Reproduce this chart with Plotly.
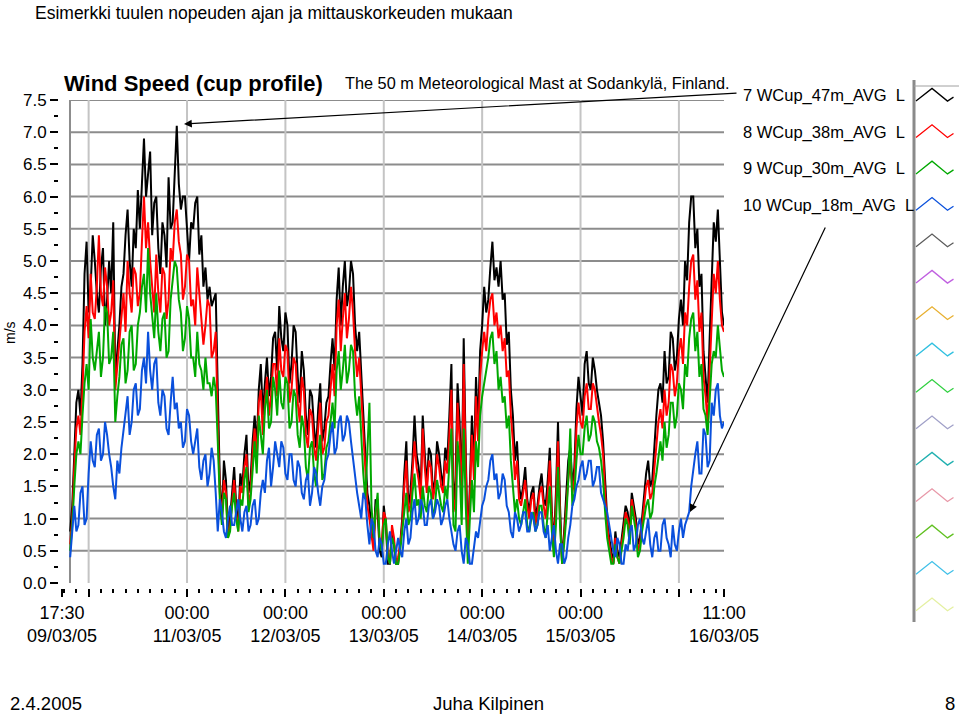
import plotly.graph_objects as go
import pandas as pd

W, H = 959, 716

# ---------------- data (half-hourly readings, 19:30 09/03/05 .. 11:00 16/03/05) ----------------
times = pd.date_range("2005-03-09 19:30", periods=320, freq="30min")

wcup_47m = [
    0.8, 1.2, 2.0, 2.8, 3.0, 2.6, 3.4, 4.8, 5.3, 4.2, 4.6, 5.4, 5.0, 4.5, 4.2, 4.9, 5.2, 4.0, 4.4, 5.0,
    4.5, 5.6, 3.2, 3.6, 4.0, 4.6, 4.8, 5.4, 5.8, 5.0, 4.6, 5.5, 5.2, 6.1, 5.5, 6.2, 6.9, 6.0, 6.3, 6.7,
    5.4, 5.9, 6.0, 5.2, 4.8, 5.6, 5.4, 4.9, 6.3, 5.5, 5.6, 6.4, 7.1, 6.2, 5.8, 6.0, 6.0, 5.5, 5.0, 5.6,
    5.5, 5.9, 6.0, 5.1, 5.4, 4.6, 4.9, 4.4, 4.6, 4.3, 4.4, 4.5, 3.0, 1.6, 1.0, 1.9, 1.6, 0.8, 1.0, 1.4,
    1.8, 1.2, 0.9, 1.7, 1.5, 2.0, 2.3, 1.4, 1.6, 2.2, 2.6, 2.1, 3.0, 3.4, 2.6, 3.1, 3.5, 2.9, 3.2, 3.8,
    3.9, 3.3, 4.3, 3.8, 3.6, 4.2, 4.0, 3.1, 3.4, 4.0, 3.9, 3.2, 2.8, 3.6, 3.3, 2.6, 2.3, 3.0, 2.9, 2.4,
    2.1, 2.7, 3.1, 2.2, 2.4, 2.8, 2.9, 3.4, 3.8, 3.3, 4.4, 4.9, 4.0, 4.6, 5.0, 4.3, 4.5, 5.0, 4.8, 4.0,
    3.6, 3.9, 3.2, 2.6, 2.0, 1.4, 1.2, 0.8, 0.6, 1.3, 1.1, 0.5, 0.4, 1.2, 0.9, 0.3, 0.3, 0.8, 0.6, 0.3,
    0.3, 0.6, 1.0, 1.7, 2.2, 1.2, 1.4, 1.9, 2.6, 2.0, 1.8, 1.4, 2.6, 2.0, 1.5, 2.1, 2.0, 1.4, 1.6, 2.2,
    2.0, 1.7, 1.5, 2.1, 1.9, 2.6, 3.4, 1.2, 1.6, 3.1, 2.5, 1.4, 3.8, 2.0, 0.6, 1.5, 2.6, 1.8, 3.2, 2.4,
    3.6, 4.0, 4.6, 4.2, 4.4, 4.9, 5.3, 4.7, 4.9, 4.6, 5.0, 4.4, 4.5, 3.7, 3.9, 3.0, 2.6, 1.9, 2.2, 1.5,
    1.3, 1.5, 1.8, 1.3, 1.1, 1.4, 1.5, 1.0, 1.2, 1.5, 1.7, 1.3, 1.2, 1.6, 2.1, 1.1, 0.6, 1.4, 2.5, 1.2,
    0.3, 0.8, 1.4, 1.9, 2.1, 1.5, 1.8, 2.7, 3.2, 2.9, 2.6, 3.4, 3.6, 3.1, 3.0, 3.5, 3.3, 3.0, 2.8, 2.6,
    2.2, 1.5, 1.0, 0.7, 0.5, 0.3, 0.8, 0.5, 0.4, 0.7, 0.9, 1.2, 1.1, 0.8, 1.4, 1.2, 1.0, 0.6, 0.7, 1.0,
    1.4, 1.7, 1.9, 1.5, 1.6, 2.2, 2.6, 3.0, 3.1, 2.8, 3.6, 3.1, 3.2, 3.9, 3.8, 3.3, 3.5, 4.1, 4.4, 4.0,
    5.0, 4.7, 5.6, 6.0, 6.0, 5.2, 5.5, 4.6, 4.8, 3.6, 3.2, 2.8, 3.8, 4.8, 5.6, 5.3, 5.8, 5.0, 4.2, 4.0,
]
wcup_38m = [
    0.6, 1.0, 1.8, 2.4, 2.6, 2.3, 3.0, 3.9, 4.3, 3.8, 4.8, 4.2, 4.1, 4.6, 5.4, 4.5, 4.3, 4.9, 4.6, 4.0,
    4.2, 4.7, 3.0, 3.4, 3.7, 4.2, 4.5, 3.9, 5.0, 4.5, 4.2, 4.9, 4.8, 4.3, 4.5, 5.3, 6.0, 5.2, 5.6, 5.0,
    4.6, 4.2, 5.1, 4.5, 4.2, 4.9, 4.8, 4.1, 4.4, 5.2, 5.0, 5.6, 5.8, 5.3, 5.1, 4.4, 4.6, 5.1, 5.0, 4.3,
    4.4, 4.0, 4.9, 4.5, 4.2, 3.7, 4.0, 4.4, 4.3, 3.5, 3.6, 3.9, 2.5, 1.4, 1.0, 1.6, 1.4, 0.7, 0.9, 1.3,
    1.6, 1.1, 0.8, 1.5, 1.4, 1.8, 2.0, 1.2, 1.4, 2.0, 2.4, 1.9, 2.8, 3.0, 2.3, 2.8, 3.2, 2.6, 2.9, 3.4,
    3.4, 2.9, 3.8, 3.3, 3.2, 3.7, 3.6, 2.8, 3.0, 3.5, 3.4, 2.8, 2.5, 3.2, 3.0, 2.3, 2.1, 2.7, 2.6, 2.1,
    1.9, 2.4, 2.8, 2.0, 2.1, 2.5, 2.6, 3.0, 3.4, 2.9, 4.0, 4.4, 3.6, 4.1, 4.5, 3.8, 4.1, 4.6, 4.2, 3.6,
    3.2, 3.5, 2.9, 2.2, 1.6, 1.2, 1.0, 0.7, 0.5, 1.1, 1.3, 0.6, 0.6, 1.1, 1.0, 0.4, 0.3, 0.9, 0.7, 0.3,
    0.4, 0.6, 0.9, 1.5, 1.9, 1.1, 1.2, 1.7, 2.2, 1.8, 1.6, 1.3, 2.4, 1.8, 1.4, 1.9, 1.8, 1.3, 1.5, 2.0,
    1.8, 1.5, 1.4, 1.9, 1.7, 2.3, 3.0, 1.1, 1.3, 2.8, 2.2, 1.2, 3.4, 1.8, 0.6, 1.3, 2.3, 1.6, 2.9, 2.2,
    3.2, 3.6, 3.9, 3.6, 4.1, 4.4, 4.5, 4.0, 4.2, 3.8, 4.0, 3.6, 3.8, 3.2, 3.3, 2.6, 2.2, 1.6, 1.9, 1.3,
    1.2, 1.4, 1.6, 1.2, 1.0, 1.3, 1.4, 0.9, 1.1, 1.4, 1.5, 1.2, 1.0, 1.4, 1.9, 1.0, 0.5, 1.2, 2.2, 1.0,
    0.3, 0.7, 1.2, 1.6, 1.9, 1.4, 1.6, 2.4, 2.8, 2.5, 2.4, 2.9, 3.1, 2.7, 2.7, 3.1, 3.0, 2.7, 2.5, 2.3,
    2.0, 1.4, 0.9, 0.6, 0.4, 0.3, 0.7, 0.4, 0.3, 0.6, 0.8, 1.1, 1.0, 0.7, 1.3, 1.1, 0.9, 0.5, 0.6, 0.9,
    1.2, 1.5, 1.6, 1.3, 1.4, 1.8, 2.1, 2.5, 2.7, 2.4, 3.0, 2.6, 2.8, 3.4, 3.3, 2.9, 3.1, 3.6, 3.8, 3.4,
    4.2, 4.0, 4.6, 5.0, 5.1, 4.4, 4.7, 3.9, 4.2, 3.2, 2.9, 2.5, 3.3, 4.2, 4.8, 4.5, 5.0, 4.4, 4.0, 3.9,
]
wcup_30m = [
    0.5, 0.9, 1.5, 2.0, 2.2, 2.0, 2.6, 3.1, 3.4, 3.0, 4.1, 3.5, 3.3, 3.6, 3.9, 3.2, 3.5, 4.3, 4.2, 3.4,
    3.5, 3.9, 2.5, 2.9, 3.2, 3.7, 3.8, 3.1, 3.3, 3.9, 4.0, 3.3, 3.4, 4.0, 4.2, 4.6, 4.8, 4.2, 5.2, 4.5,
    4.1, 3.8, 4.5, 3.9, 3.6, 4.1, 4.2, 3.5, 3.6, 4.4, 4.7, 5.0, 4.9, 4.4, 4.2, 3.6, 3.8, 4.3, 4.1, 3.5,
    3.5, 3.2, 3.9, 3.4, 3.3, 3.0, 3.5, 3.1, 3.1, 2.9, 3.2, 3.0, 2.2, 1.3, 0.9, 1.4, 1.3, 0.7, 0.8, 1.2,
    1.4, 1.0, 0.8, 1.3, 1.2, 1.6, 1.8, 1.1, 1.3, 1.8, 2.2, 1.7, 2.6, 2.3, 2.0, 2.7, 3.0, 2.4, 2.5, 3.2,
    3.0, 2.6, 3.3, 2.8, 2.7, 3.2, 3.1, 2.4, 2.5, 3.0, 2.9, 2.3, 2.1, 2.6, 2.4, 1.8, 1.6, 2.1, 2.2, 1.7,
    1.5, 2.0, 2.3, 1.6, 1.7, 2.1, 2.2, 2.5, 2.8, 2.4, 3.3, 3.6, 3.0, 3.3, 3.7, 3.1, 3.3, 3.7, 3.6, 2.9,
    2.6, 2.9, 2.2, 1.7, 1.3, 2.0, 2.8, 1.2, 0.7, 1.1, 1.4, 0.6, 0.5, 0.9, 1.0, 0.4, 0.3, 0.7, 0.6, 0.3,
    0.3, 0.5, 0.8, 1.2, 1.4, 0.9, 1.0, 1.4, 1.7, 1.2, 1.3, 1.0, 1.5, 1.2, 1.1, 1.5, 1.4, 1.0, 1.2, 1.6,
    1.4, 1.2, 1.1, 1.5, 1.3, 1.9, 2.4, 0.9, 0.8, 2.2, 1.8, 0.9, 2.4, 1.2, 0.3, 1.0, 1.6, 1.1, 2.2, 1.8,
    2.6, 2.9, 3.1, 3.3, 3.5, 3.8, 3.9, 3.4, 3.6, 3.0, 3.2, 2.8, 2.9, 2.4, 2.6, 1.9, 1.5, 1.1, 1.3, 1.0,
    0.9, 1.1, 1.3, 0.9, 0.8, 1.0, 1.1, 0.8, 0.9, 1.2, 1.2, 0.9, 0.7, 1.1, 1.5, 0.8, 0.4, 0.9, 1.8, 0.9,
    0.3, 0.6, 1.0, 1.6, 2.4, 1.2, 1.4, 1.9, 2.3, 2.0, 2.0, 2.4, 2.6, 2.2, 2.3, 2.6, 2.5, 2.2, 2.1, 1.9,
    1.6, 1.1, 0.7, 0.5, 0.3, 0.3, 0.6, 0.4, 0.3, 0.5, 0.7, 1.0, 0.9, 0.6, 1.2, 1.0, 0.8, 0.4, 0.5, 0.8,
    1.0, 1.2, 1.3, 1.0, 1.1, 1.5, 1.7, 2.0, 2.2, 1.9, 2.5, 2.1, 2.3, 2.8, 2.8, 2.4, 2.6, 3.1, 3.0, 2.7,
    3.4, 3.2, 3.8, 4.1, 4.2, 3.6, 3.9, 3.2, 3.4, 2.7, 2.6, 2.3, 2.8, 3.4, 3.6, 3.5, 4.0, 3.6, 3.3, 3.2,
]
wcup_18m = [
    0.4, 0.8, 1.2, 0.8, 0.9, 1.4, 1.5, 0.9, 1.0, 1.7, 2.2, 1.9, 1.8, 2.3, 2.4, 1.9, 2.0, 2.5, 2.3, 2.0,
    1.8, 1.5, 1.3, 1.9, 1.7, 2.1, 2.4, 2.7, 2.9, 2.3, 2.5, 3.0, 3.1, 2.6, 2.7, 3.3, 3.5, 3.1, 3.9, 3.3,
    3.0, 3.4, 3.5, 2.8, 2.6, 3.0, 2.9, 2.4, 2.3, 2.8, 3.2, 2.7, 2.8, 2.4, 2.5, 2.1, 2.2, 2.7, 2.6, 2.2,
    2.0, 2.2, 2.4, 1.8, 1.6, 1.9, 2.0, 1.5, 1.7, 2.1, 1.9, 1.4, 0.8, 1.3, 1.1, 0.8, 0.7, 1.0, 1.2, 0.9,
    0.9, 1.1, 1.3, 1.0, 0.8, 1.1, 1.2, 0.8, 0.9, 1.2, 1.3, 0.9, 1.0, 1.4, 1.6, 1.4, 1.9, 2.1, 1.5, 1.8,
    2.2, 2.0, 1.8, 2.2, 2.1, 1.7, 1.6, 2.0, 2.0, 1.6, 1.5, 1.9, 1.8, 1.4, 1.3, 1.6, 1.7, 1.2, 1.4, 1.8,
    1.7, 1.4, 1.2, 1.5, 1.6, 1.9, 2.0, 2.3, 2.5, 2.0, 2.1, 2.5, 2.6, 2.2, 2.3, 2.6, 2.5, 2.2, 1.9, 1.6,
    1.4, 1.2, 1.0, 1.4, 1.3, 0.9, 0.6, 1.0, 0.9, 0.5, 0.4, 0.7, 0.6, 0.3, 0.3, 0.6, 0.8, 0.5, 0.3, 0.5,
    0.7, 0.5, 0.4, 0.8, 1.0, 0.6, 0.7, 1.1, 1.3, 0.9, 1.0, 1.3, 1.2, 0.9, 0.9, 1.2, 1.3, 1.0, 1.1, 1.3,
    1.2, 0.9, 1.0, 1.2, 1.3, 1.0, 0.8, 0.6, 0.5, 0.8, 0.9, 0.5, 0.3, 0.7, 0.6, 0.3, 0.3, 0.6, 0.8, 0.7,
    1.0, 1.2, 1.3, 1.5, 1.6, 1.9, 2.0, 1.6, 1.7, 1.3, 1.4, 1.7, 1.6, 1.2, 1.1, 0.8, 0.7, 1.1, 1.0, 0.8,
    0.9, 1.1, 1.1, 0.8, 0.8, 1.1, 1.0, 0.8, 0.9, 1.1, 1.1, 0.8, 0.7, 0.9, 0.5, 0.7, 0.9, 0.5, 0.3, 0.6,
    0.6, 0.3, 0.4, 0.7, 0.9, 1.2, 1.3, 1.5, 1.6, 1.8, 1.9, 1.6, 1.7, 1.9, 1.9, 1.5, 1.6, 1.8, 1.8, 1.4,
    1.3, 1.2, 1.1, 0.9, 0.7, 0.5, 0.4, 0.7, 0.6, 0.3, 0.3, 0.6, 0.5, 0.8, 0.9, 0.5, 0.6, 0.9, 1.0, 0.7,
    0.6, 0.8, 1.0, 0.6, 0.4, 0.7, 0.8, 0.5, 0.5, 0.9, 1.0, 0.7, 0.6, 0.4, 0.9, 0.6, 0.5, 0.8, 1.0, 0.7,
    0.9, 1.0, 1.1, 1.5, 1.8, 2.0, 2.2, 1.7, 1.7, 2.4, 2.3, 1.8, 1.9, 2.8, 2.6, 3.0, 3.1, 2.6, 2.4, 2.5,
]

series_values = [wcup_47m, wcup_38m, wcup_30m, wcup_18m]
series_names = ["7 WCup_47m_AVG  L", "8 WCup_38m_AVG  L", "9 WCup_30m_AVG  L", "10 WCup_18m_AVG  L"]
series_colors = ["#000000", "#ff0000", "#00a800", "#0a50dc"]
unused_plot_colors = ["#5c5c5c", "#c060e0", "#e8b030", "#30c0e0", "#30d040", "#a0a0c8",
                      "#20b0b0", "#e898a8", "#60c020", "#40c0e8", "#e4f0a0"]

y_ticks = [0.0, 0.5, 1.0, 1.5, 2.0, 2.5, 3.0, 3.5, 4.0, 4.5, 5.0, 5.5, 6.0, 6.5, 7.0, 7.5]
x_tick_vals = ["2005-03-09 17:30", "2005-03-10 00:00", "2005-03-11 00:00", "2005-03-12 00:00",
               "2005-03-13 00:00", "2005-03-14 00:00", "2005-03-15 00:00", "2005-03-16 00:00",
               "2005-03-16 11:00"]
x_tick_text = ["17:30<br>09/03/05", "", "00:00<br>11/03/05", "00:00<br>12/03/05",
               "00:00<br>13/03/05", "00:00<br>14/03/05", "00:00<br>15/03/05", "",
               "11:00<br>16/03/05"]
grid_days = ["2005-03-10", "2005-03-11", "2005-03-12", "2005-03-13",
             "2005-03-14", "2005-03-15", "2005-03-16"]
x_start, x_end, frame_start = "2005-03-09 17:30", "2005-03-16 11:00", "2005-03-09 19:27"

SANS = "Liberation Sans, Arial, sans-serif"


def px(x):
    return x / W


def py(y):
    return 1 - y / H


fig = go.Figure()
for vals, name, col in zip(series_values, series_names, series_colors):
    fig.add_trace(go.Scatter(x=times, y=vals, mode="lines", name=name,
                             line=dict(color=col, width=2), showlegend=False))

shapes = []
for v in y_ticks[1:]:
    shapes.append(dict(type="line", xref="x", yref="y", x0=frame_start, x1=x_end, y0=v, y1=v,
                       line=dict(color="#8c8c8c", width=2), layer="below"))
for d in grid_days:
    shapes.append(dict(type="line", xref="x", yref="y", x0=d, x1=d, y0=-0.03, y1=7.5,
                       line=dict(color="#c4c4c4", width=2), layer="below"))
shapes.append(dict(type="line", xref="x", yref="y", x0=frame_start, x1=frame_start, y0=-0.03, y1=7.5,
                   line=dict(color="#8c8c8c", width=2), layer="below"))

# legend box
shapes.append(dict(type="line", xref="paper", yref="paper", x0=px(914), x1=px(914), y0=py(80), y1=py(622),
                   line=dict(color="#8a8a8a", width=3)))
shapes.append(dict(type="line", xref="paper", yref="paper", x0=px(914), x1=px(959), y0=py(86), y1=py(86),
                   line=dict(color="#a0a0a0", width=1)))
icon_colors = series_colors + unused_plot_colors
for i, col in enumerate(icon_colors):
    p = 88.4 + 36.4 * i
    pts = [(916, p + 12.7), (932, p), (947.5, p + 12.7), (953.5, p + 8.7)]
    path = "M " + " L ".join(f"{px(a):.5f},{py(b):.5f}" for a, b in pts)
    shapes.append(dict(type="path", xref="paper", yref="paper", path=path,
                       line=dict(color=col, width=1.3)))

annotations = []
for i, name in enumerate(series_names):
    annotations.append(dict(text=name, x=px(741), y=py(96 + 36.4 * i), xref="paper", yref="paper",
                            xanchor="left", yanchor="middle", showarrow=False,
                            font=dict(family=SANS, size=16.5, color="black")))
annotations += [
    dict(text="Esimerkki tuulen nopeuden ajan ja mittauskorkeuden mukaan", x=px(33), y=py(13),
         xref="paper", yref="paper", xanchor="left", yanchor="middle", showarrow=False,
         font=dict(family=SANS, size=17.5, color="black")),
    dict(text="<b>Wind Speed (cup profile)</b>", x=px(62), y=py(83), xref="paper", yref="paper",
         xanchor="left", yanchor="middle", showarrow=False,
         font=dict(family=SANS, size=22, color="black")),
    dict(text="The 50 m Meteorological Mast at Sodankylä, Finland.", x=px(343), y=py(83),
         xref="paper", yref="paper", xanchor="left", yanchor="middle", showarrow=False,
         font=dict(family=SANS, size=16.3, color="black")),
    dict(text="m/s", x=px(10), y=py(333), xref="paper", yref="paper", textangle=-90,
         xanchor="center", yanchor="middle", showarrow=False,
         font=dict(family=SANS, size=14, color="black")),
    dict(text="2.4.2005", x=px(8), y=py(703), xref="paper", yref="paper", xanchor="left",
         yanchor="middle", showarrow=False, font=dict(family=SANS, size=18.5, color="black")),
    dict(text="Juha Kilpinen", x=px(488), y=py(703), xref="paper", yref="paper", xanchor="center",
         yanchor="middle", showarrow=False, font=dict(family=SANS, size=18.5, color="black")),
    dict(text="8", x=px(957), y=py(703), xref="paper", yref="paper", xanchor="right",
         yanchor="middle", showarrow=False, font=dict(family=SANS, size=18.5, color="black")),
    dict(text="", x=px(184), y=py(124), xref="paper", yref="paper", ax=738 - 184, ay=93 - 124,
         showarrow=True, arrowhead=2, arrowsize=1.3, arrowwidth=1.2, arrowcolor="black"),
    dict(text="", x=px(690), y=py(512), xref="paper", yref="paper", ax=826 - 690, ay=226 - 512,
         showarrow=True, arrowhead=2, arrowsize=1.3, arrowwidth=1.2, arrowcolor="black"),
]

fig.update_layout(
    width=W, height=H, autosize=False,
    margin=dict(l=0, r=0, t=0, b=0, pad=0, autoexpand=False),
    paper_bgcolor="white", plot_bgcolor="white",
    showlegend=False,
    shapes=shapes, annotations=annotations,
    xaxis=dict(
        type="date", domain=[px(62), px(724)], range=[x_start, x_end],
        anchor="free", position=py(588), automargin=False,
        showgrid=False, zeroline=False, showline=False,
        tickmode="array", tickvals=x_tick_vals, ticktext=x_tick_text,
        ticks="outside", ticklen=8, tickwidth=2, tickcolor="black",
        tickfont=dict(family=SANS, size=18, color="black"),
        minor=dict(tick0="2005-03-10", dtick=3 * 3600 * 1000, ticks="outside", ticklen=4,
                   tickwidth=2, tickcolor="black", showgrid=False),
    ),
    yaxis=dict(
        domain=[py(583), py(100)], range=[0, 7.5],
        anchor="free", position=px(58), automargin=False,
        showgrid=False, zeroline=False, showline=False,
        tickmode="array", tickvals=y_ticks, ticktext=[f"{v:.1f}" for v in y_ticks],
        ticks="outside", ticklen=8, tickwidth=2, tickcolor="black",
        tickfont=dict(family=SANS, size=17, color="black"),
        minor=dict(tick0=0, dtick=0.25, ticks="outside", ticklen=4, tickwidth=2,
                   tickcolor="black", showgrid=False),
    ),
)

fig.write_html("out.html")
